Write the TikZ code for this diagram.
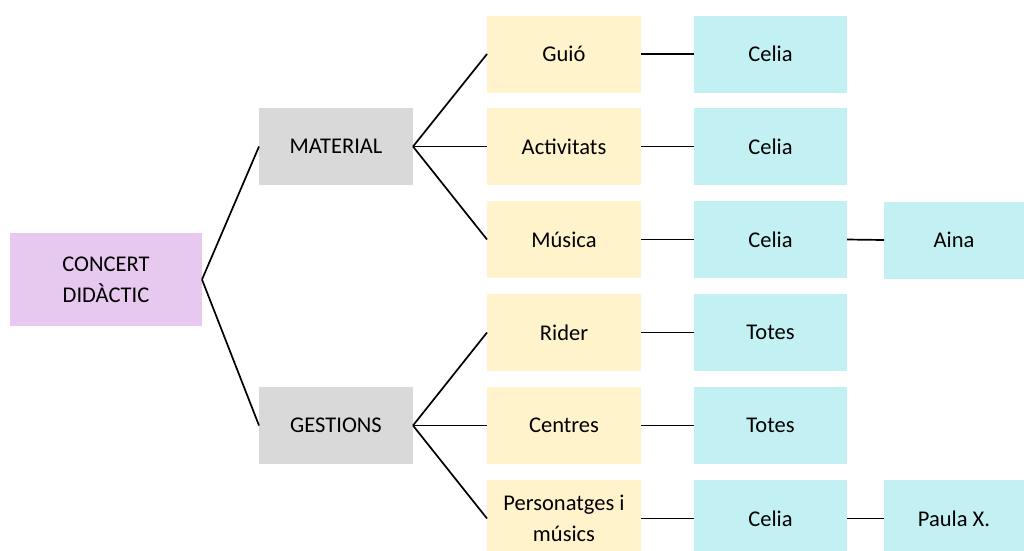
\documentclass[tikz,border=0pt]{standalone}
\usepackage{fontspec}
\setmainfont{Carlito}
\definecolor{cpurple}{HTML}{E7C9EF}
\definecolor{cgray}{HTML}{D9D9D9}
\definecolor{cyellow}{HTML}{FFF3CC}
\definecolor{ccyan}{HTML}{C2F0F3}
\begin{document}
\begin{tikzpicture}[x=1pt,y=-1pt,
  box/.style={inner sep=0pt,outer sep=0pt,align=center,font=\fontsize{22.5}{31}\selectfont},
  link/.style={line width=1.7pt,black}]
\useasboundingbox (0,0) rectangle (1024,550);
\clip (0,0) rectangle (1024,550);
% root
\node[box,fill=cpurple,minimum width=192,minimum height=93] (root) at (106,279.5) {CONCERT\\DIDÀCTIC};
\node[box,fill=cgray,minimum width=154,minimum height=77] (mat) at (336,146.5) {MATERIAL};
\node[box,fill=cgray,minimum width=154,minimum height=77] (ges) at (336,425.5) {GESTIONS};
% yellow
\node[box,fill=cyellow,minimum width=154,minimum height=77] (y1) at (564,54) {Guió};
\node[box,fill=cyellow,minimum width=154,minimum height=77] (y2) at (564,146.5) {Activitats};
\node[box,fill=cyellow,minimum width=154,minimum height=77] (y3) at (564,239.5) {Música};
\node[box,fill=cyellow,minimum width=154,minimum height=77] (y4) at (564,332.5) {Rider};
\node[box,fill=cyellow,minimum width=154,minimum height=77] (y5) at (564,425.5) {Centres};
\node[box,fill=cyellow,minimum width=154,minimum height=77] (y6) at (564,518.5) {Personatges i\\músics};
% cyan
\node[box,fill=ccyan,minimum width=153,minimum height=77] (c1) at (770.5,54) {Celia};
\node[box,fill=ccyan,minimum width=153,minimum height=77] (c2) at (770.5,146.5) {Celia};
\node[box,fill=ccyan,minimum width=153,minimum height=77] (c3) at (770.5,239.5) {Celia};
\node[box,fill=ccyan,minimum width=153,minimum height=77] (c4) at (770.5,332.5) {Totes};
\node[box,fill=ccyan,minimum width=153,minimum height=77] (c5) at (770.5,425.5) {Totes};
\node[box,fill=ccyan,minimum width=153,minimum height=77] (c6) at (770.5,518.5) {Celia};
\node[box,fill=ccyan,minimum width=140,minimum height=77] (aina) at (954,240) {Aina};
\node[box,fill=ccyan,minimum width=140,minimum height=77] (paula) at (954,518.5) {Paula X.};
% links
\draw[link] (root.east) -- (mat.west);
\draw[link] (root.east) -- (ges.west);
\foreach \t in {y1,y2,y3} \draw[link] (mat.east) -- (\t.west);
\foreach \t in {y4,y5,y6} \draw[link] (ges.east) -- (\t.west);
\foreach \i in {1,...,6} \draw[link] (y\i.east) -- (c\i.west);
\draw[link] (c3.east) -- (aina.west);
\draw[link] (c6.east) -- (paula.west);
\end{tikzpicture}
\end{document}
